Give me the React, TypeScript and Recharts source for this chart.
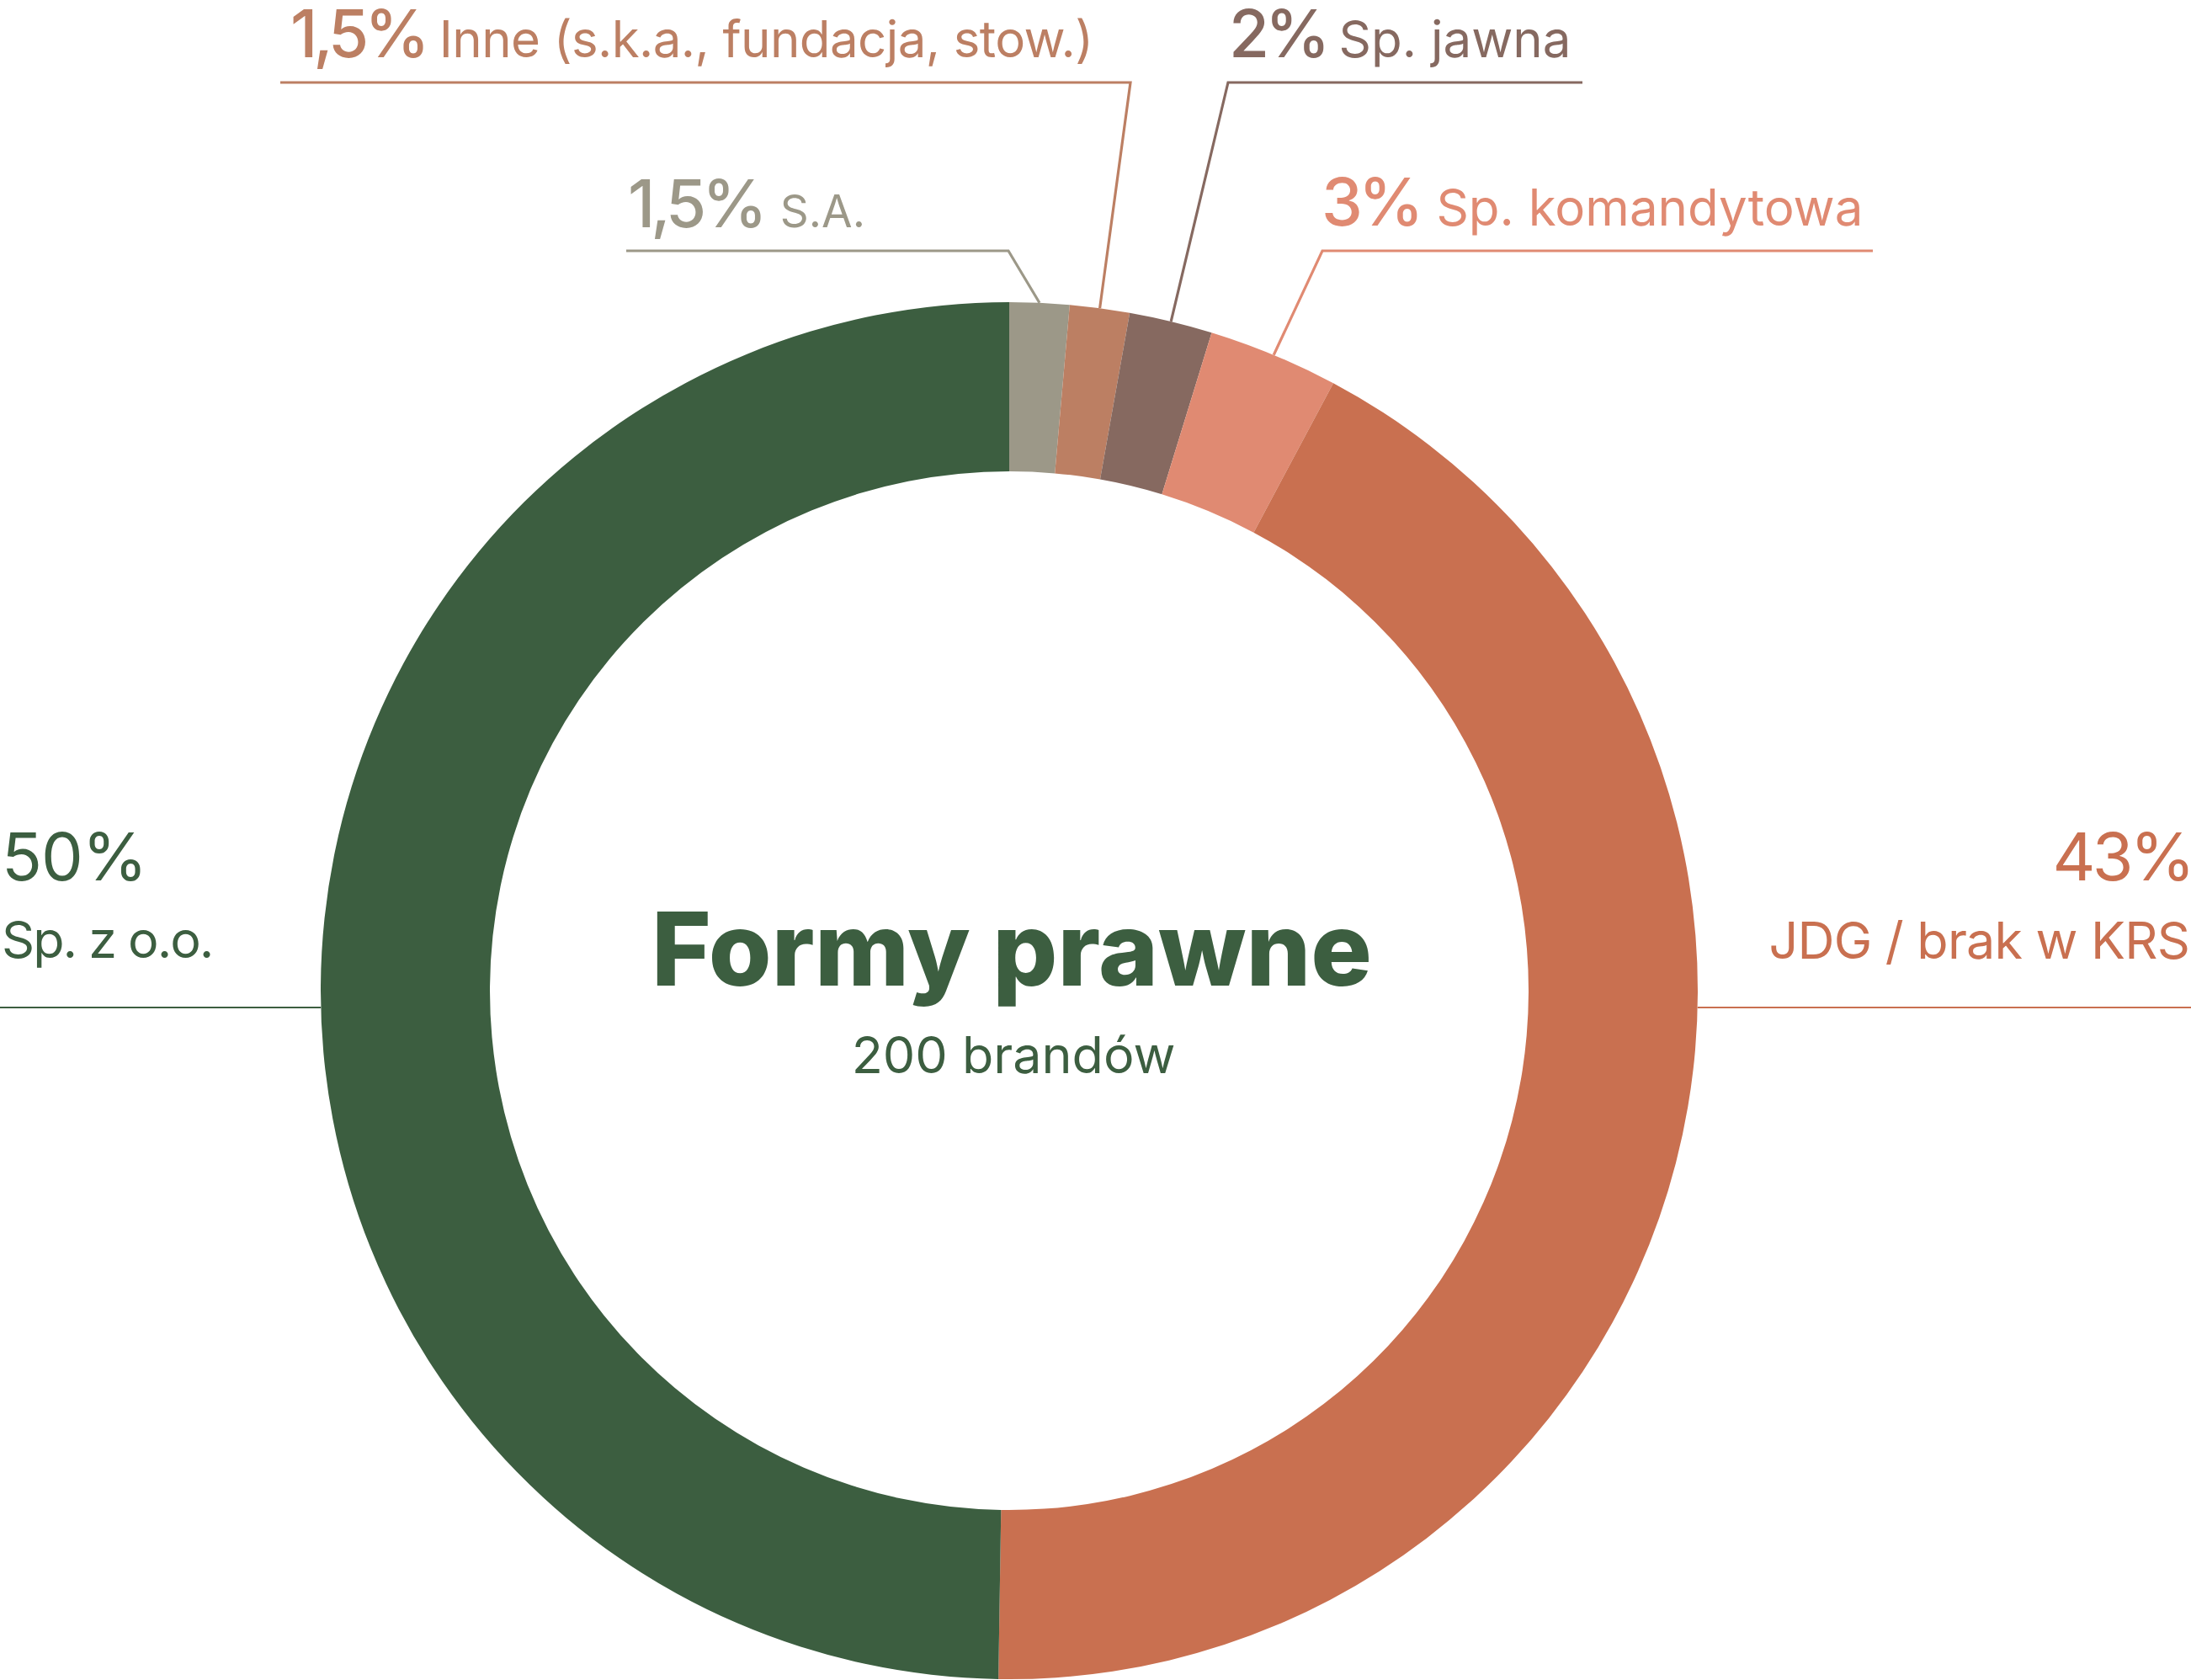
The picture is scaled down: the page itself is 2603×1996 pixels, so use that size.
import React from 'react';
import { PieChart, Pie, Cell } from 'recharts';

// ---- data ----
const categories = [
  'S.A.',
  'Inne (s.k.a., fundacja, stow.)',
  'Sp. jawna',
  'Sp. komandytowa',
  'JDG / brak w KRS',
  'Sp. z o.o.',
];
// slice shares as drawn in the picture
const shares = [1.4, 1.4, 1.95, 3.05, 42.45, 49.75];
// percentages as printed
const percentLabels = ['1,5%', '1,5%', '2%', '3%', '43%', '50%'];
const centerTitle = 'Formy prawne';
const centerSubtitle = '200 brandów';

// ---- styles ----
const colors = ['#9C9888', '#BC7F63', '#866960', '#E08A72', '#C97050', '#3C5E40'];
const FONT = 'Inter, "DejaVu Sans", sans-serif';
const W = 2603;
const H = 1996;
const CX = 1199;
const CY = 1177;
const OUTER = 818;
const INNER = 617;

type TopLayout = {
  kind: 'top';
  textX: number;
  baseline: number;
  labelSize: number;
  gap: number;
  labelSpacing: number;
  lineY: number;
  farX: number;
  elbowX: number;
};
type SideLayout = {
  kind: 'side';
  side: 'left' | 'right';
  pctX: number;
  labelX: number;
  pctBaseline: number;
  labelBaseline: number;
  lineY: number;
  pctSpacing: number;
  labelSpacing: number;
};

const layout: (TopLayout | SideLayout)[] = [
  { kind: 'top', textX: 746, baseline: 270, labelSize: 53, gap: 20, labelSpacing: 0, lineY: 298, farX: 744, elbowX: 1198 },
  { kind: 'top', textX: 345, baseline: 68, labelSize: 60, gap: 16, labelSpacing: -0.6, lineY: 98, farX: 333, elbowX: 1343 },
  { kind: 'top', textX: 1460, baseline: 68, labelSize: 60, gap: 15, labelSpacing: 0, lineY: 98, farX: 1880, elbowX: 1459 },
  { kind: 'top', textX: 1570, baseline: 268, labelSize: 60, gap: 20, labelSpacing: 0, lineY: 298, farX: 2225, elbowX: 1571 },
  { kind: 'side', side: 'right', pctX: 2604, labelX: 2601, pctBaseline: 1046, labelBaseline: 1139, lineY: 1197, pctSpacing: -4, labelSpacing: -0.8 },
  { kind: 'side', side: 'left', pctX: 2, labelX: 2, pctBaseline: 1046, labelBaseline: 1138, lineY: 1197, pctSpacing: -1, labelSpacing: -2 },
];
const PCT_SPACING_TOP = -5;

const RAD = Math.PI / 180;
const polar = (cx: number, cy: number, r: number, angle: number) => ({
  x: cx + Math.cos(-RAD * angle) * r,
  y: cy + Math.sin(-RAD * angle) * r,
});

const data = categories.map((name, i) => ({ name, value: shares[i] }));

function renderLabel(props: any) {
  const index: number = props.index;
  const cx: number = typeof props.cx === 'number' ? props.cx : CX;
  const cy: number = typeof props.cy === 'number' ? props.cy : CY;
  const outerRadius: number = typeof props.outerRadius === 'number' ? props.outerRadius : OUTER;
  const midAngle: number = props.midAngle;
  const L = layout[index];
  const color = colors[index];

  const center =
    index === 0 ? (
      <g>
        <text x={cx + 3} y={1171} textAnchor="middle" fill={colors[5]} fontFamily={FONT} fontWeight={800} fontSize={121}>
          {centerTitle}
        </text>
        <text x={cx + 5} y={1275} textAnchor="middle" fill={colors[5]} fontFamily={FONT} fontWeight={400} fontSize={61}>
          {centerSubtitle}
        </text>
      </g>
    ) : null;

  if (L.kind === 'top') {
    const end = polar(cx, cy, outerRadius, midAngle);
    return (
      <g key={`lbl-${index}`}>
        {center}
        <polyline
          points={`${L.farX},${L.lineY} ${L.elbowX},${L.lineY} ${end.x},${end.y}`}
          fill="none"
          stroke={color}
          strokeWidth={3.2}
        />
        <text x={L.textX} y={L.baseline} fill={color} fontFamily={FONT}>
          <tspan fontSize={78} fontWeight={500} letterSpacing={PCT_SPACING_TOP}>{percentLabels[index]}</tspan>
          <tspan dx={L.gap} fontSize={L.labelSize} fontWeight={400} letterSpacing={L.labelSpacing}>
            {categories[index]}
          </tspan>
        </text>
      </g>
    );
  }

  const dy = L.lineY - cy;
  const dx = Math.sqrt(Math.max(outerRadius * outerRadius - dy * dy, 0));
  const edgeX = L.side === 'right' ? cx + dx : cx - dx;
  const farX = L.side === 'right' ? W : 0;
  const anchor = L.side === 'right' ? 'end' : 'start';
  return (
    <g key={`lbl-${index}`}>
      {center}
      <line x1={edgeX} y1={L.lineY} x2={farX} y2={L.lineY} stroke={color} strokeWidth={1.8} />
      <text
        x={L.pctX}
        y={L.pctBaseline}
        textAnchor={anchor}
        fill={color}
        fontFamily={FONT}
        fontSize={79}
        fontWeight={400}
        letterSpacing={L.pctSpacing}
      >
        {percentLabels[index]}
      </text>
      <text
        x={L.labelX}
        y={L.labelBaseline}
        textAnchor={anchor}
        fill={color}
        fontFamily={FONT}
        fontSize={61}
        fontWeight={400}
        letterSpacing={L.labelSpacing}
      >
        {categories[index]}
      </text>
    </g>
  );
}

export default function App() {
  return (
    <div style={{ position: 'absolute', left: 0, top: 0, width: W, height: H, background: '#ffffff' }}>
      <PieChart width={W} height={H} margin={{ top: 0, right: 0, bottom: 0, left: 0 }}>
        <Pie
          data={data}
          dataKey="value"
          nameKey="name"
          cx={CX}
          cy={CY}
          innerRadius={INNER}
          outerRadius={OUTER}
          startAngle={90}
          endAngle={-270}
          stroke="none"
          label={renderLabel}
          labelLine={false}
          isAnimationActive={false}
        >
          {data.map((d, i) => (
            <Cell key={d.name} fill={colors[i]} />
          ))}
        </Pie>
      </PieChart>
    </div>
  );
}
